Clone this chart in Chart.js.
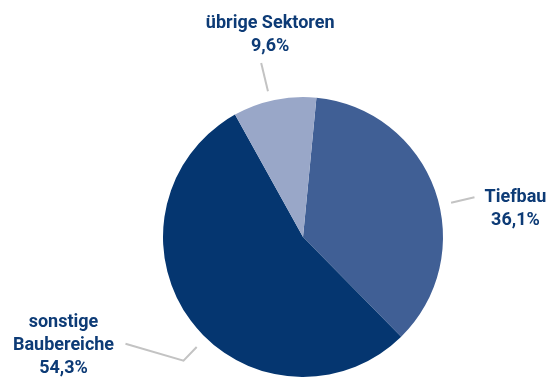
<!DOCTYPE html>
<html>
<head>
<meta charset="utf-8">
<script src="https://cdn.jsdelivr.net/npm/chart.js@4"></script>
<style>
  html, body { margin: 0; padding: 0; background: #fff; }
  #wrap { width: 550px; height: 378px; position: relative; }
</style>
</head>
<body>
<div id="wrap"><canvas id="pie"></canvas></div>
<script>
const categories = ['Tiefbau', 'sonstige Baubereiche', 'übrige Sektoren']
const shares = [36.1, 54.3, 9.6]
const labelLines = [['Tiefbau'], ['sonstige', 'Baubereiche'], ['übrige Sektoren']]

const sliceColors = ['#405f95', '#053670', '#99a7c8']
const textColor = '#0d3b76'
const lineColor = '#c3c3c3'

// where each leader sits: fraction through the slice, start/end gap past the rim,
// optional elbow, and the text block's centre x / first baseline relative to the line end
const callouts = [
  { at: 0.55, r1: 12, r2: 36, elbow: null, text: { dx: 41, dy: 5 } },
  { at: 0.453, r1: 13, r2: 32, elbow: [-58, -17], text: { dx: -62, dy: -17 } },
  { at: 0.45, r1: 10, r2: 39, elbow: null, text: { dx: 9, dy: -34.5 } }
]

const fmt = v => v.toFixed(1).replace('.', ',') + '%'

const calloutPlugin = {
  id: 'callouts',
  afterDraw(chart) {
    const ctx = chart.ctx
    const arcs = chart.getDatasetMeta(0).data
    ctx.save()
    arcs.forEach((arc, i) => {
      const c = callouts[i]
      const a = arc.startAngle + (arc.endAngle - arc.startAngle) * c.at
      const r = arc.outerRadius
      const x1 = arc.x + Math.cos(a) * (r + c.r1)
      const y1 = arc.y + Math.sin(a) * (r + c.r1)
      let x2 = arc.x + Math.cos(a) * (r + c.r2)
      let y2 = arc.y + Math.sin(a) * (r + c.r2)
      ctx.strokeStyle = lineColor
      ctx.lineWidth = 2
      ctx.beginPath()
      ctx.moveTo(x1, y1)
      ctx.lineTo(x2, y2)
      if (c.elbow) {
        x2 += c.elbow[0]
        y2 += c.elbow[1]
        ctx.lineTo(x2, y2)
      }
      ctx.stroke()

      const lines = labelLines[i].concat([fmt(shares[i])])
      const lh = 23
      ctx.fillStyle = textColor
      ctx.font = 'bold 18px Roboto'
      ctx.textAlign = 'center'
      ctx.textBaseline = 'alphabetic'
      const tx = x2 + c.text.dx
      const firstBase = y2 + c.text.dy
      lines.forEach((t, k) => ctx.fillText(t, tx, firstBase + k * lh))
    })
    ctx.restore()
  }
}

new Chart(document.getElementById('pie'), {
  type: 'pie',
  data: {
    labels: categories,
    datasets: [{
      data: shares,
      backgroundColor: sliceColors,
      borderWidth: 0
    }]
  },
  options: {
    responsive: true,
    maintainAspectRatio: false,
    animation: false,
    rotation: 5.5,
    layout: { padding: { top: 97, bottom: 1, left: 163, right: 107 } },
    plugins: { legend: { display: false }, tooltip: { enabled: false } }
  },
  plugins: [calloutPlugin]
})
</script>
</body>
</html>
